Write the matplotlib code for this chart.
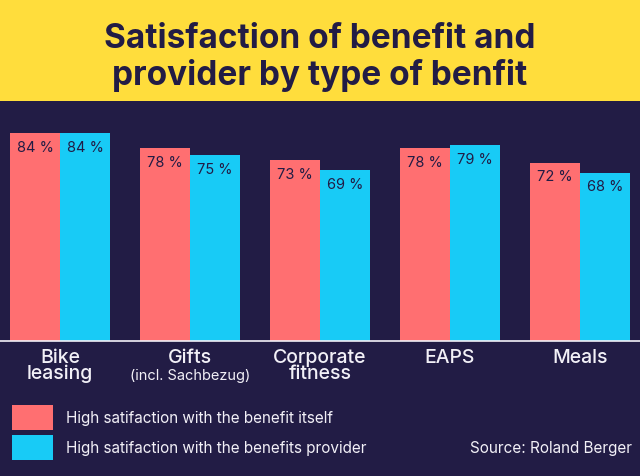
import numpy as np
import matplotlib
matplotlib.use("Agg")
import matplotlib.pyplot as plt
from matplotlib.patches import Rectangle

categories = ["Bike\nleasing", "Gifts", "Corporate\nfitness", "EAPS", "Meals"]
benefit_itself = [84, 78, 73, 78, 72]
benefit_provider = [84, 75, 69, 79, 68]
legend_labels = ["High satifaction with the benefit itself",
                 "High satifaction with the benefits provider"]

NAVY = "#221c45"
YELLOW = "#ffdd3c"
RED = "#ff6f71"
CYAN = "#18cbf6"
WHITE = "#f2f0f7"

plt.rcParams["font.family"] = ["Inter", "DejaVu Sans"]

fig = plt.figure(figsize=(6.4, 4.76), dpi=100, facecolor=NAVY)
W, H = 640, 476

# yellow header
fig.patches.append(Rectangle((0, 1 - 101 / H), 1, 101 / H, transform=fig.transFigure,
                             facecolor=YELLOW, edgecolor="none", zorder=0))
fig.text(0.5, 1 - 36 / H, "Satisfaction of benefit and", ha="center", va="center_baseline",
         fontsize=24, fontweight="bold", color=NAVY)
fig.text(0.5, 1 - 72 / H, "provider by type of benfit", ha="center", va="center_baseline",
         fontsize=24, fontweight="bold", color=NAVY)

ax = fig.add_axes([0, 1 - 341 / H, 1, 240 / H])
ax.set_facecolor(NAVY)
x = np.arange(len(categories))
gap = 130
bw = 50 / gap
ax.bar(x - bw / 2, benefit_itself, width=bw, color=RED)
ax.bar(x + bw / 2, benefit_provider, width=bw, color=CYAN)
ax.set_xlim(-60 / gap, (W - 60) / gap)
ax.set_ylim(0, 240 / 2.475)
for xi, a, b in zip(x, benefit_itself, benefit_provider):
    ax.annotate(f"{a} %", (xi - bw / 2, a), xytext=(0, -10.5), textcoords="offset points",
                ha="center", va="center", fontsize=10.5, color=NAVY)
    ax.annotate(f"{b} %", (xi + bw / 2, b), xytext=(0, -10.5), textcoords="offset points",
                ha="center", va="center", fontsize=10.5, color=NAVY)
for s in ["top", "left", "right"]:
    ax.spines[s].set_visible(False)
ax.spines["bottom"].set_color(WHITE)
ax.spines["bottom"].set_linewidth(1.2)
ax.set_yticks([])
ax.set_xticks(x)
ax.set_xticklabels(categories, fontsize=14, fontweight="medium", color=WHITE,
                   linespacing=0.82)
ax.tick_params(axis="x", length=0, pad=6)
ax.text(1, -35 / 240, "(incl. Sachbezug)", transform=ax.get_xaxis_transform(),
        ha="center", va="center", fontsize=10.5, color=WHITE)

# legend
for i, (lab, col) in enumerate(zip(legend_labels, [RED, CYAN])):
    y0 = 405 + i * 30
    fig.patches.append(Rectangle((12 / W, 1 - (y0 + 25) / H), 41 / W, 25 / H,
                                 transform=fig.transFigure, facecolor=col, edgecolor="none"))
    fig.text(66 / W, 1 - (y0 + 13) / H, lab, ha="left", va="center", fontsize=11, color=WHITE)
fig.text(632 / W, 1 - 448 / H, "Source: Roland Berger", ha="right", va="center",
         fontsize=11, color=WHITE)

fig.savefig("out.png", dpi=100, facecolor=NAVY)
